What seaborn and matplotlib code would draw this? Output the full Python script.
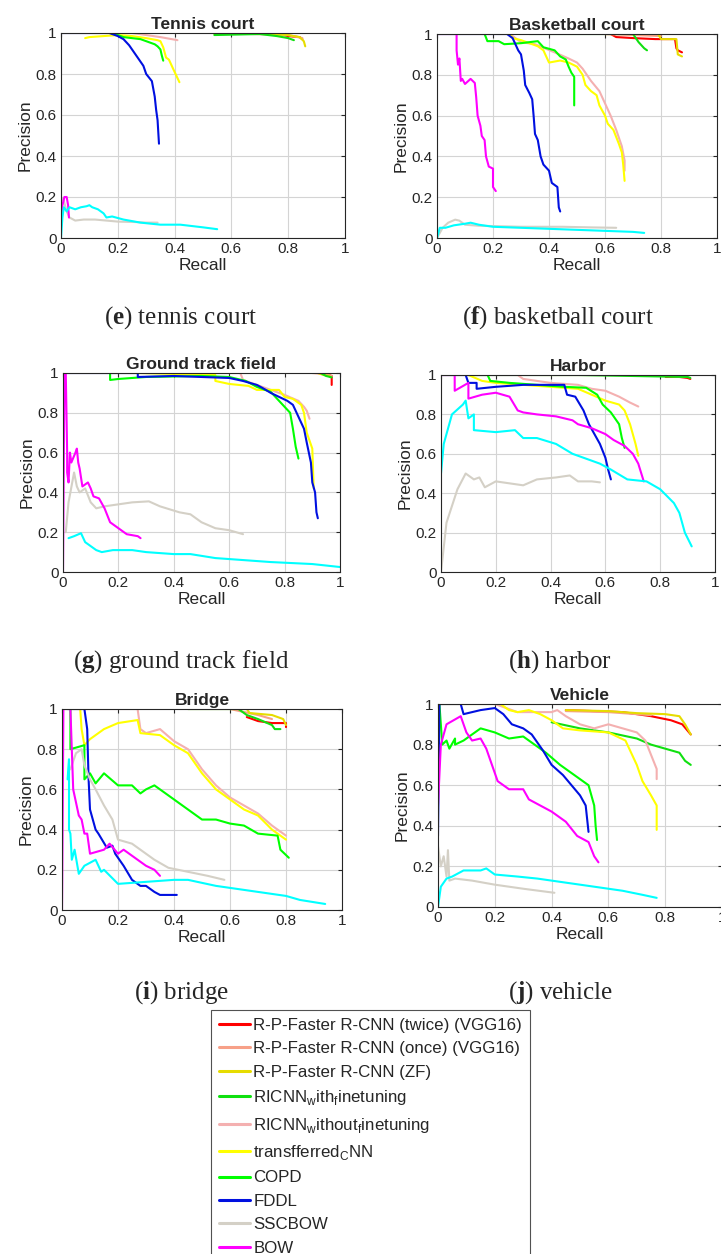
import numpy as np
import pandas as pd
import seaborn as sns
import matplotlib.pyplot as plt
from matplotlib import ticker
from matplotlib.lines import Line2D

# Figure size in pixels
W_PX, H_PX = 721, 1254

# Methods, legend labels and colours (legend order)
KEYS = ["twice", "once", "zf", "ricnn_ft", "ricnn", "tcnn",
        "copd", "fddl", "sscbow", "bow", "esvm"]
LABELS = [
    "R-P-Faster R-CNN (twice) (VGG16)",
    "R-P-Faster R-CNN (once) (VGG16)",
    "R-P-Faster R-CNN (ZF)",
    r"RICNN$_\mathrm{w}$ith$_\mathrm{f}$inetuning",
    r"RICNN$_\mathrm{w}$ithout$_\mathrm{f}$inetuning",
    r"transfferred$_\mathrm{C}$NN",
    "COPD",
    "FDDL",
    "SSCBOW",
    "BOW",
    "Exemplar-SVMs",
]
COLORS = ["#ff0000", "#f7a088", "#e6dc00", "#10e010", "#f4b0b0", "#ffff00",
          "#00ff00", "#0010e0", "#d4d0c6", "#ff00ff", "#00ffff"]

# (recall, precision)
TENNIS = {
    "twice": ([0.55, 0.75, 0.80, 0.84, 0.85], [1.0, 1.0, 0.985, 0.98, 0.97]),
    "once": ([0.55, 0.80, 0.85], [1.0, 0.99, 0.975]),
    "zf": ([0.54, 0.66, 0.80, 0.84, 0.855, 0.86], [0.995, 1.0, 0.99, 0.98, 0.96, 0.935]),
    "ricnn_ft": ([0.54, 0.70, 0.76, 0.80, 0.82], [0.99, 0.995, 0.985, 0.975, 0.965]),
    "ricnn": ([0.17, 0.25, 0.30, 0.35, 0.41], [1.0, 1.0, 0.99, 0.98, 0.965]),
    "tcnn": ([0.085, 0.10, 0.15, 0.20, 0.25, 0.30, 0.34, 0.35, 0.36, 0.37, 0.38, 0.39, 0.40, 0.417],
             [0.975, 0.98, 0.985, 0.99, 0.985, 0.975, 0.965, 0.96, 0.93, 0.88, 0.87, 0.84, 0.81, 0.76]),
    "copd": ([0.18, 0.20, 0.22, 0.25, 0.28, 0.31, 0.33, 0.34, 0.35, 0.355, 0.36],
             [1.0, 0.99, 0.98, 0.975, 0.97, 0.955, 0.945, 0.935, 0.92, 0.89, 0.865]),
    "fddl": ([0.0, 0.17, 0.20, 0.22, 0.24, 0.25, 0.27, 0.29, 0.30, 0.32, 0.33, 0.335, 0.34, 0.345],
             [1.0, 1.0, 0.985, 0.97, 0.94, 0.92, 0.88, 0.84, 0.80, 0.765, 0.69, 0.625, 0.575, 0.46]),
    "sscbow": ([0.0, 0.01, 0.02, 0.03, 0.05, 0.08, 0.12, 0.16, 0.20, 0.26, 0.30, 0.34],
               [0.2, 0.18, 0.13, 0.10, 0.085, 0.09, 0.09, 0.085, 0.08, 0.078, 0.075, 0.075]),
    "bow": ([0.0, 0.005, 0.012, 0.02, 0.025, 0.028], [0.10, 0.16, 0.20, 0.20, 0.16, 0.10]),
    "esvm": ([0.0, 0.005, 0.01, 0.02, 0.03, 0.05, 0.07, 0.09, 0.10, 0.11, 0.13, 0.15, 0.16, 0.18,
              0.22, 0.28, 0.35, 0.42, 0.50, 0.55],
             [0.0, 0.10, 0.15, 0.13, 0.15, 0.14, 0.15, 0.155, 0.16, 0.15, 0.14, 0.12, 0.10, 0.105,
              0.09, 0.075, 0.065, 0.065, 0.052, 0.043]),
}

BASKETBALL = {
    "twice": ([0.60, 0.62, 0.64, 0.70, 0.78, 0.85, 0.855, 0.86, 0.875],
              [1.0, 1.0, 0.985, 0.98, 0.975, 0.975, 0.93, 0.92, 0.91]),
    "once": ([0.60, 0.70, 0.80], [1.0, 0.995, 0.99]),
    "zf": ([0.60, 0.79, 0.80, 0.855, 0.86, 0.875], [1.0, 1.0, 0.975, 0.975, 0.90, 0.89]),
    "ricnn_ft": ([0.33, 0.50, 0.70, 0.71, 0.72, 0.74, 0.75], [1.0, 1.0, 1.0, 0.98, 0.96, 0.93, 0.92]),
    "ricnn": ([0.26, 0.28, 0.30, 0.35, 0.42, 0.47, 0.50, 0.52, 0.55, 0.58, 0.60, 0.62, 0.64, 0.66, 0.67, 0.67],
              [1.0, 0.98, 0.96, 0.95, 0.91, 0.88, 0.86, 0.83, 0.77, 0.72, 0.66, 0.60, 0.53, 0.45, 0.38, 0.33]),
    "tcnn": ([0.26, 0.27, 0.30, 0.36, 0.38, 0.40, 0.44, 0.47, 0.50, 0.52, 0.53, 0.55, 0.57, 0.58, 0.60,
              0.61, 0.63, 0.65, 0.66, 0.665, 0.67],
             [1.0, 0.98, 0.97, 0.94, 0.92, 0.86, 0.87, 0.86, 0.84, 0.80, 0.75, 0.72, 0.70, 0.65, 0.60,
              0.56, 0.53, 0.46, 0.42, 0.36, 0.28]),
    "copd": ([0.17, 0.18, 0.22, 0.24, 0.30, 0.36, 0.38, 0.42, 0.44, 0.46, 0.47, 0.48, 0.49, 0.49],
             [1.0, 0.965, 0.965, 0.95, 0.955, 0.965, 0.935, 0.92, 0.89, 0.875, 0.84, 0.81, 0.79, 0.65]),
    "fddl": ([0.0, 0.25, 0.27, 0.28, 0.29, 0.30, 0.31, 0.315, 0.33, 0.34, 0.345, 0.35, 0.36, 0.37, 0.38,
              0.40, 0.41, 0.43, 0.435, 0.44],
             [1.0, 1.0, 0.98, 0.95, 0.92, 0.90, 0.82, 0.75, 0.71, 0.68, 0.60, 0.51, 0.48, 0.40, 0.36,
              0.33, 0.27, 0.25, 0.15, 0.13]),
    "sscbow": ([0.0, 0.02, 0.04, 0.065, 0.08, 0.10, 0.15, 0.30, 0.45, 0.55, 0.64],
               [0.0, 0.05, 0.075, 0.09, 0.085, 0.065, 0.06, 0.055, 0.055, 0.052, 0.05]),
    "bow": ([0.0, 0.07, 0.07, 0.075, 0.08, 0.085, 0.09, 0.10, 0.12, 0.135, 0.14, 0.145, 0.155, 0.16,
             0.17, 0.175, 0.185, 0.20, 0.20, 0.21],
            [1.0, 1.0, 0.92, 0.85, 0.88, 0.77, 0.78, 0.755, 0.78, 0.76, 0.69, 0.60, 0.55, 0.50,
             0.48, 0.40, 0.35, 0.34, 0.25, 0.23]),
    "esvm": ([0.0, 0.01, 0.03, 0.06, 0.10, 0.12, 0.15, 0.20, 0.30, 0.40, 0.50, 0.60, 0.70, 0.74],
             [0.0, 0.05, 0.05, 0.062, 0.07, 0.075, 0.065, 0.055, 0.05, 0.045, 0.04, 0.035, 0.03, 0.025]),
}

GROUND_TRACK = {
    "twice": ([0.93, 0.96, 0.97, 0.97], [1.0, 0.99, 0.985, 0.94]),
    "once": ([0.90, 0.95, 0.97], [1.0, 0.995, 0.985]),
    "zf": ([0.92, 0.94, 0.96, 0.965], [1.0, 0.99, 0.985, 0.98]),
    "ricnn_ft": ([0.93, 0.95, 0.97], [1.0, 0.985, 0.978]),
    "ricnn": ([0.30, 0.64, 0.65, 0.70, 0.72, 0.75, 0.80, 0.85, 0.87, 0.88, 0.89],
              [1.0, 1.0, 0.965, 0.94, 0.93, 0.915, 0.89, 0.86, 0.83, 0.81, 0.77]),
    "tcnn": ([0.27, 0.55, 0.55, 0.60, 0.67, 0.70, 0.78, 0.80, 0.83, 0.86, 0.87, 0.88, 0.90, 0.905],
             [1.0, 0.99, 0.96, 0.945, 0.935, 0.915, 0.915, 0.88, 0.87, 0.84, 0.80, 0.70, 0.62, 0.42]),
    "copd": ([0.17, 0.17, 0.20, 0.30, 0.50, 0.60, 0.66, 0.70, 0.75, 0.78, 0.80, 0.82, 0.83, 0.84, 0.85],
             [1.0, 0.965, 0.97, 0.98, 0.985, 0.98, 0.96, 0.93, 0.905, 0.86, 0.83, 0.80, 0.72, 0.63, 0.57]),
    "fddl": ([0.0, 0.27, 0.27, 0.40, 0.50, 0.60, 0.65, 0.70, 0.72, 0.75, 0.78, 0.81, 0.83, 0.85, 0.87,
              0.88, 0.895, 0.90, 0.91, 0.915, 0.92],
             [1.0, 1.0, 0.98, 0.985, 0.98, 0.975, 0.96, 0.94, 0.925, 0.90, 0.88, 0.86, 0.84, 0.78, 0.72,
              0.65, 0.55, 0.45, 0.40, 0.30, 0.27]),
    "sscbow": ([0.01, 0.02, 0.04, 0.05, 0.06, 0.08, 0.10, 0.12, 0.15, 0.20, 0.25, 0.31, 0.35, 0.42,
                0.46, 0.50, 0.55, 0.60, 0.65],
               [0.2, 0.35, 0.5, 0.43, 0.40, 0.42, 0.35, 0.32, 0.33, 0.34, 0.35, 0.355, 0.33, 0.30,
                0.29, 0.25, 0.22, 0.21, 0.19]),
    "bow": ([0.0, 0.005, 0.01, 0.015, 0.015, 0.02, 0.025, 0.03, 0.045, 0.05, 0.055, 0.06, 0.07, 0.09,
             0.10, 0.11, 0.13, 0.15, 0.17, 0.20, 0.23, 0.27, 0.28],
            [0.0, 1.0, 1.0, 0.6, 0.5, 0.45, 0.6, 0.55, 0.6, 0.62, 0.55, 0.52, 0.43, 0.45,
             0.42, 0.38, 0.37, 0.32, 0.25, 0.22, 0.19, 0.18, 0.17]),
    "esvm": ([0.02, 0.04, 0.065, 0.08, 0.10, 0.12, 0.14, 0.18, 0.25, 0.30, 0.40, 0.46, 0.55, 0.65,
              0.75, 0.90, 1.0],
             [0.17, 0.18, 0.195, 0.15, 0.13, 0.11, 0.10, 0.11, 0.11, 0.10, 0.09, 0.09, 0.07, 0.06,
              0.05, 0.04, 0.025]),
}

HARBOR = {
    "twice": ([0.82, 0.87, 0.90, 0.91], [0.99, 0.99, 0.985, 0.98]),
    "once": ([0.80, 0.90], [0.995, 0.99]),
    "zf": ([0.36, 0.60, 0.91], [1.0, 1.0, 1.0]),
    "ricnn_ft": ([0.10, 0.50, 0.90, 0.91], [1.0, 1.0, 0.99, 0.985]),
    "ricnn": ([0.0, 0.28, 0.30, 0.40, 0.50, 0.55, 0.60, 0.65, 0.69, 0.72],
              [1.0, 1.0, 0.98, 0.96, 0.95, 0.93, 0.92, 0.89, 0.86, 0.84]),
    "tcnn": ([0.10, 0.15, 0.20, 0.30, 0.40, 0.50, 0.55, 0.60, 0.65, 0.67, 0.69, 0.70, 0.71, 0.72],
             [1.0, 0.97, 0.96, 0.95, 0.94, 0.93, 0.90, 0.87, 0.85, 0.82, 0.75, 0.70, 0.65, 0.59]),
    "copd": ([0.10, 0.17, 0.18, 0.25, 0.35, 0.45, 0.53, 0.57, 0.59, 0.62, 0.65, 0.66, 0.67],
             [1.0, 1.0, 0.97, 0.96, 0.95, 0.94, 0.935, 0.90, 0.85, 0.81, 0.75, 0.68, 0.63]),
    "fddl": ([0.0, 0.09, 0.10, 0.13, 0.13, 0.20, 0.30, 0.45, 0.46, 0.49, 0.52, 0.54, 0.56, 0.58, 0.60,
              0.61, 0.62],
             [1.0, 1.0, 0.96, 0.96, 0.93, 0.94, 0.95, 0.95, 0.90, 0.89, 0.82, 0.75, 0.70, 0.65, 0.58,
              0.52, 0.47]),
    "sscbow": ([0.0, 0.02, 0.06, 0.09, 0.12, 0.14, 0.16, 0.20, 0.25, 0.30, 0.35, 0.42, 0.47, 0.50,
                0.55, 0.58],
               [0.0, 0.25, 0.42, 0.5, 0.47, 0.48, 0.43, 0.46, 0.45, 0.44, 0.47, 0.48, 0.49, 0.46,
                0.46, 0.455]),
    "bow": ([0.0, 0.05, 0.05, 0.10, 0.10, 0.15, 0.20, 0.25, 0.28, 0.30, 0.35, 0.42, 0.48, 0.50, 0.55,
             0.60, 0.63, 0.67, 0.70, 0.72, 0.74],
            [1.0, 1.0, 0.92, 0.96, 0.88, 0.90, 0.91, 0.89, 0.82, 0.81, 0.80, 0.79, 0.77, 0.75, 0.73,
             0.70, 0.67, 0.64, 0.60, 0.55, 0.46]),
    "esvm": ([0.0, 0.01, 0.03, 0.04, 0.08, 0.09, 0.10, 0.12, 0.12, 0.20, 0.27, 0.30, 0.35, 0.42, 0.48,
              0.52, 0.58, 0.62, 0.68, 0.75, 0.80, 0.85, 0.87, 0.89, 0.915],
             [0.5, 0.65, 0.75, 0.80, 0.85, 0.87, 0.78, 0.80, 0.72, 0.71, 0.72, 0.68, 0.68, 0.65, 0.60,
              0.58, 0.55, 0.52, 0.47, 0.46, 0.42, 0.35, 0.30, 0.20, 0.13]),
}

BRIDGE = {
    "twice": ([0.66, 0.70, 0.75, 0.80, 0.80], [0.96, 0.94, 0.93, 0.93, 0.91]),
    "once": ([0.60, 0.70, 0.75], [1.0, 0.97, 0.95]),
    "zf": ([0.45, 0.66, 0.67, 0.75, 0.79, 0.80], [1.0, 1.0, 0.98, 0.97, 0.95, 0.92]),
    "ricnn_ft": ([0.45, 0.63, 0.66, 0.70, 0.75, 0.76, 0.78], [1.0, 1.0, 0.97, 0.95, 0.92, 0.90, 0.90]),
    "ricnn": ([0.02, 0.27, 0.28, 0.30, 0.35, 0.40, 0.45, 0.50, 0.55, 0.60, 0.65, 0.70, 0.75, 0.80],
              [1.0, 1.0, 0.90, 0.88, 0.90, 0.84, 0.80, 0.70, 0.62, 0.56, 0.52, 0.48, 0.42, 0.37]),
    "tcnn": ([0.065, 0.07, 0.08, 0.10, 0.15, 0.20, 0.27, 0.28, 0.35, 0.40, 0.45, 0.50, 0.55, 0.60,
              0.65, 0.70, 0.75, 0.80],
             [1.0, 0.9, 0.82, 0.85, 0.90, 0.93, 0.945, 0.88, 0.87, 0.82, 0.78, 0.68, 0.60, 0.55,
              0.50, 0.47, 0.40, 0.35]),
    "copd": ([0.03, 0.03, 0.08, 0.08, 0.10, 0.12, 0.15, 0.20, 0.25, 0.28, 0.30, 0.33, 0.40, 0.45, 0.50,
              0.55, 0.60, 0.65, 0.70, 0.77, 0.78, 0.81],
             [1.0, 0.80, 0.82, 0.65, 0.68, 0.63, 0.68, 0.62, 0.62, 0.58, 0.60, 0.62, 0.55, 0.50, 0.45,
              0.45, 0.43, 0.42, 0.38, 0.37, 0.30, 0.26]),
    "fddl": ([0.02, 0.08, 0.09, 0.095, 0.10, 0.12, 0.13, 0.16, 0.18, 0.19, 0.22, 0.25, 0.28, 0.30,
              0.33, 0.35, 0.41],
             [1.0, 1.0, 0.9, 0.65, 0.50, 0.40, 0.38, 0.31, 0.32, 0.28, 0.22, 0.15, 0.12, 0.12,
              0.09, 0.075, 0.075]),
    "sscbow": ([0.03, 0.05, 0.07, 0.08, 0.10, 0.12, 0.15, 0.18, 0.20, 0.25, 0.28, 0.33, 0.38, 0.45,
                0.52, 0.58],
               [0.7, 0.78, 0.80, 0.72, 0.65, 0.60, 0.52, 0.45, 0.35, 0.33, 0.30, 0.25, 0.21, 0.19,
                0.17, 0.15]),
    "bow": ([0.0, 0.005, 0.03, 0.04, 0.06, 0.07, 0.08, 0.09, 0.10, 0.15, 0.17, 0.20, 0.22, 0.27,
             0.30, 0.33, 0.35],
            [0.0, 1.0, 1.0, 0.6, 0.47, 0.45, 0.38, 0.38, 0.28, 0.30, 0.33, 0.28, 0.30, 0.25,
             0.22, 0.20, 0.17]),
    "esvm": ([0.02, 0.025, 0.025, 0.03, 0.035, 0.045, 0.06, 0.08, 0.12, 0.14, 0.15, 0.20, 0.30, 0.40,
              0.45, 0.55, 0.65, 0.80, 0.85, 0.94],
             [0.65, 0.75, 0.40, 0.38, 0.25, 0.30, 0.18, 0.22, 0.25, 0.19, 0.20, 0.13, 0.14, 0.15,
              0.15, 0.12, 0.10, 0.07, 0.05, 0.03]),
}

VEHICLE = {
    "twice": ([0.45, 0.55, 0.65, 0.75, 0.82, 0.86, 0.89], [0.97, 0.965, 0.96, 0.94, 0.92, 0.90, 0.85]),
    "once": ([0.45, 0.60, 0.75], [0.965, 0.96, 0.945]),
    "zf": ([0.45, 0.60, 0.70, 0.80, 0.85, 0.87, 0.89], [0.97, 0.965, 0.955, 0.95, 0.94, 0.90, 0.85]),
    "ricnn_ft": ([0.40, 0.50, 0.60, 0.70, 0.75, 0.80, 0.85, 0.87, 0.89],
                 [0.91, 0.88, 0.86, 0.83, 0.80, 0.78, 0.76, 0.72, 0.70]),
    "ricnn": ([0.20, 0.28, 0.40, 0.42, 0.45, 0.50, 0.55, 0.60, 0.70, 0.73, 0.75, 0.77, 0.77],
              [1.0, 0.96, 0.96, 0.97, 0.94, 0.90, 0.88, 0.90, 0.86, 0.82, 0.75, 0.68, 0.63]),
    "tcnn": ([0.0, 0.22, 0.25, 0.28, 0.32, 0.36, 0.40, 0.44, 0.50, 0.60, 0.66, 0.70, 0.72, 0.75,
              0.77, 0.77],
             [1.0, 1.0, 0.97, 0.96, 0.97, 0.95, 0.92, 0.88, 0.87, 0.86, 0.82, 0.70, 0.62, 0.55,
              0.50, 0.38]),
    "copd": ([0.005, 0.015, 0.03, 0.04, 0.06, 0.06, 0.09, 0.13, 0.15, 0.20, 0.25, 0.30, 0.34, 0.38,
              0.43, 0.48, 0.53, 0.55, 0.555, 0.56],
             [1.0, 0.80, 0.82, 0.78, 0.83, 0.80, 0.82, 0.86, 0.88, 0.86, 0.83, 0.84, 0.80, 0.76,
              0.70, 0.65, 0.60, 0.50, 0.40, 0.33]),
    "fddl": ([0.0, 0.005, 0.08, 0.09, 0.15, 0.20, 0.23, 0.26, 0.30, 0.33, 0.37, 0.40, 0.44, 0.47,
              0.50, 0.52, 0.53],
             [0.35, 1.0, 1.0, 0.95, 0.97, 0.98, 0.95, 0.90, 0.88, 0.85, 0.77, 0.70, 0.65, 0.60,
              0.55, 0.50, 0.37]),
    "sscbow": ([0.0, 0.01, 0.02, 0.03, 0.035, 0.04, 0.06, 0.12, 0.20, 0.30, 0.41],
               [0.3, 0.2, 0.25, 0.15, 0.28, 0.13, 0.14, 0.13, 0.11, 0.09, 0.07]),
    "bow": ([0.0, 0.01, 0.03, 0.08, 0.09, 0.10, 0.12, 0.15, 0.17, 0.19, 0.21, 0.25, 0.30, 0.32,
             0.36, 0.40, 0.45, 0.49, 0.53, 0.55, 0.565],
            [0.5, 0.8, 0.9, 0.94, 0.90, 0.86, 0.82, 0.83, 0.78, 0.70, 0.62, 0.58, 0.58, 0.53,
             0.50, 0.47, 0.42, 0.35, 0.32, 0.25, 0.22]),
    "esvm": ([0.0, 0.01, 0.03, 0.05, 0.09, 0.15, 0.17, 0.20, 0.28, 0.35, 0.45, 0.55, 0.65, 0.72, 0.77],
             [0.0, 0.10, 0.14, 0.15, 0.18, 0.18, 0.19, 0.16, 0.15, 0.14, 0.12, 0.10, 0.08, 0.06, 0.045]),
}

TITLES = ["Tennis court", "Basketball court", "Ground track field", "Harbor", "Bridge", "Vehicle"]
CAPTIONS = [r"($\mathbf{e}$) tennis court", r"($\mathbf{f}$) basketball court",
            r"($\mathbf{g}$) ground track field", r"($\mathbf{h}$) harbor",
            r"($\mathbf{i}$) bridge", r"($\mathbf{j}$) vehicle"]
PANELS = [TENNIS, BASKETBALL, GROUND_TRACK, HARBOR, BRIDGE, VEHICLE]
TICKS = [0, 0.2, 0.4, 0.6, 0.8, 1.0]

# Axes boxes in pixels: left, top, right, bottom
BOXES = [(61, 33, 345, 238), (437, 34, 717, 238),
         (63, 373, 340, 572), (441, 375, 715, 572),
         (62, 709, 342, 910), (438, 704, 722, 907)]
CAPTION_POS = [(181, 318), (558, 318), (181, 662), (560, 662), (181, 993), (560, 993)]

sns.set_style("white")
plt.rcParams["font.family"] = ["Liberation Sans", "DejaVu Sans"]
plt.rcParams["mathtext.fontset"] = "custom"
plt.rcParams["mathtext.rm"] = "Liberation Sans"
plt.rcParams["mathtext.bf"] = "Liberation Serif:bold"

fig = plt.figure(figsize=(W_PX / 100, H_PX / 100), dpi=100)


def px_box(l, t, r, b):
    return [l / W_PX, 1 - b / H_PX, (r - l) / W_PX, (b - t) / H_PX]


for panel, title, box, caption, cpos in zip(PANELS, TITLES, BOXES, CAPTIONS, CAPTION_POS):
    ax = fig.add_axes(px_box(*box))
    for key, color in zip(KEYS, COLORS):
        rec, prec = panel[key]
        df = pd.DataFrame({"Recall": rec, "Precision": prec})
        sns.lineplot(data=df, x="Recall", y="Precision", color=color, lw=1.5,
                     sort=False, estimator=None, ax=ax)
    ax.set_xlim(0, 1)
    ax.set_ylim(0, 1)
    ax.set_xticks(TICKS)
    ax.set_yticks(TICKS)
    fmt = ticker.FuncFormatter(lambda v, p: "%g" % v)
    ax.xaxis.set_major_formatter(fmt)
    ax.yaxis.set_major_formatter(fmt)
    ax.grid(True, color="#d4d4d4", lw=0.8)
    ax.tick_params(direction="in", length=3, width=0.8, labelsize=11, colors="#262626",
                   top=True, right=True, pad=3)
    for sp in ax.spines.values():
        sp.set_color("#262626")
        sp.set_linewidth(0.8)
    ax.set_xlabel("Recall", fontsize=12.5, color="#262626", labelpad=1)
    ax.set_ylabel("Precision", fontsize=12.5, color="#262626", labelpad=2)
    ax.set_title(title, fontsize=12.5, fontweight="bold", pad=3)
    fig.text(cpos[0] / W_PX, 1 - cpos[1] / H_PX, caption, ha="center", va="center",
             fontsize=18, family="Liberation Serif")

handles = [Line2D([], [], color=c, lw=2.2) for c in COLORS]
leg = fig.legend(handles, LABELS, loc="upper left",
                 bbox_to_anchor=(211 / W_PX, 1 - 1010 / H_PX), borderaxespad=0,
                 fontsize=12.2, frameon=True, fancybox=False, edgecolor="#262626",
                 handlelength=1.85, handletextpad=0.2, labelspacing=0.5,
                 borderpad=0.45)
leg.get_frame().set_linewidth(0.8)

fig.savefig("out.png", dpi=100)
